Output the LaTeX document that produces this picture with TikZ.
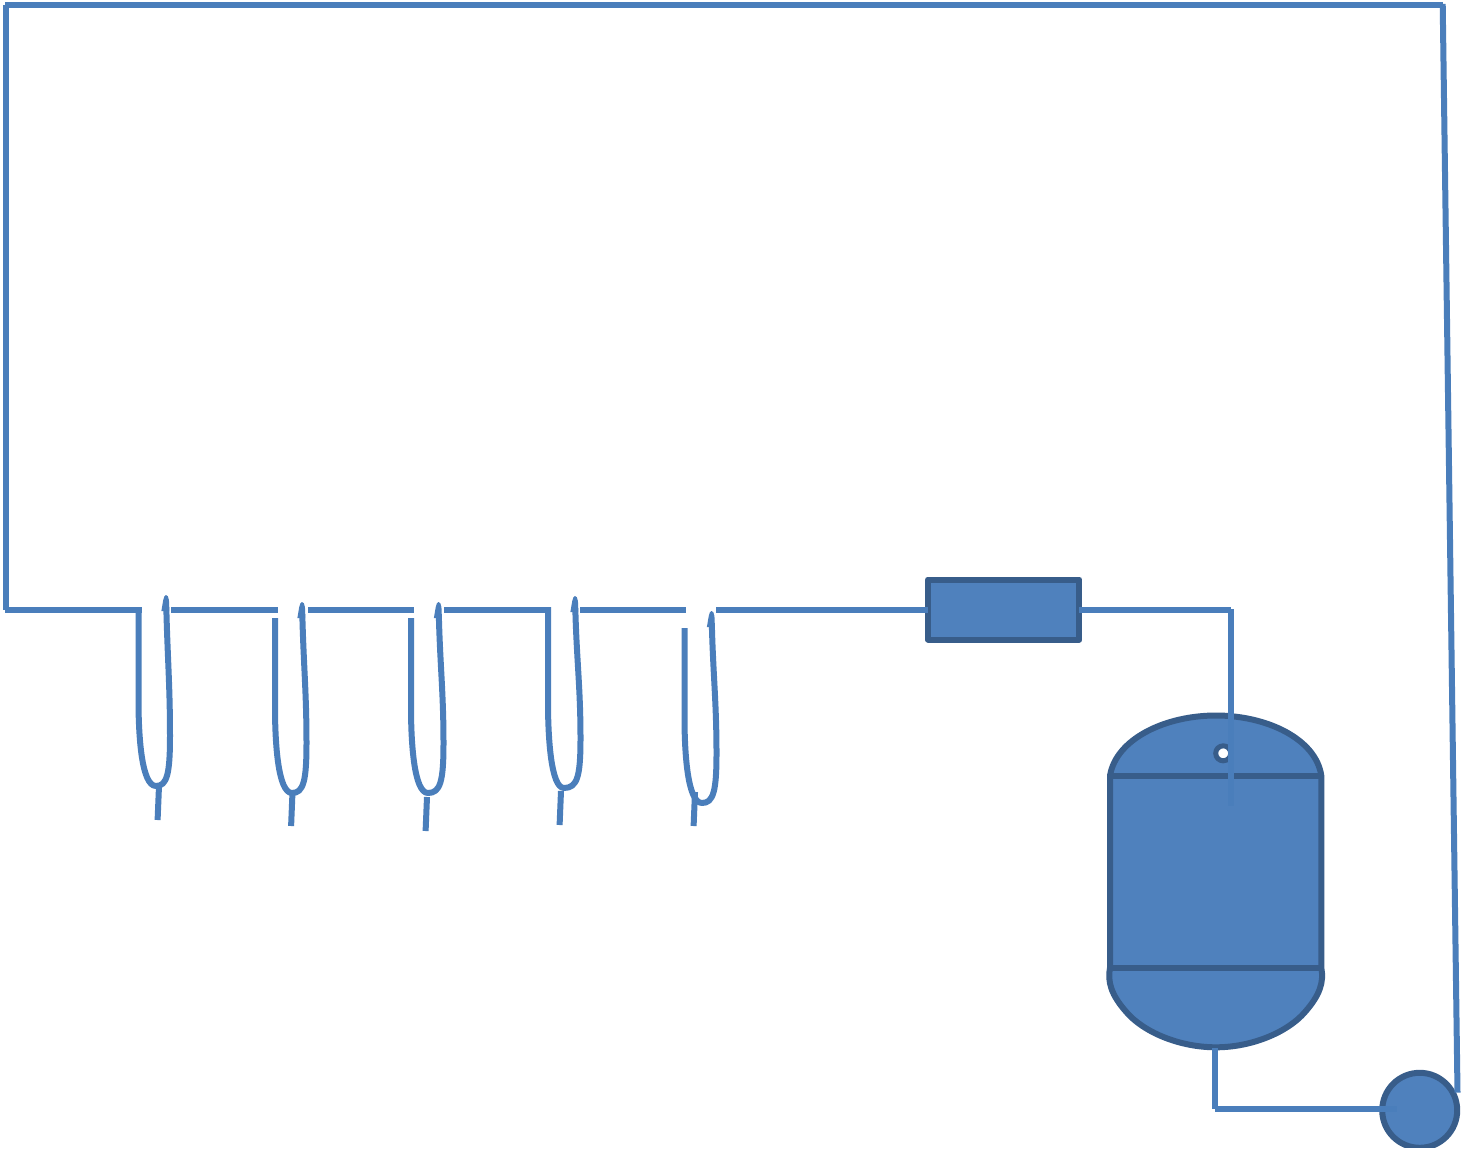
\documentclass[tikz,border=0pt]{standalone}
\definecolor{pipe}{HTML}{4A7EBB}
\definecolor{solid}{HTML}{4F81BD}
\definecolor{edge}{HTML}{385D8A}
\tikzset{
  pipeline/.style={draw=pipe,line width=6.4pt,line cap=butt,line join=miter},
  thinpipe/.style={draw=pipe,line width=6pt,line cap=butt},
  device/.style={draw=edge,fill=solid,line width=6pt,line join=round},
}
% left x, left top y, bottom x, bottom y, right x, tip x, tip y, tail top x, tail top y
\newcommand{\coilshape}[9]{%
  \draw[thinpipe,line join=round] (#1,#2) -- (#1,{#4-86})
    .. controls (#1,{#4-50}) and ({#1+3},#4) .. (#3,#4)
    .. controls ({#5-3},#4) and (#5,{#4-12}) .. (#5,{#4-50})
    .. controls (#5,{#4-100}) and ({#6+1.5},{#7+60}) .. ({#6+0.3},{#7+10});
  \fill[pipe] ({#6+3},{#7+14}) .. controls ({#6+3.5},{#7+5}) and ({#6+3},{#7-2}) .. (#6,{#7-2})
    .. controls ({#6-2.5},{#7-2}) and ({#6-3},{#7+5}) .. ({#6-4.6},{#7+14}) -- cycle;
  \draw[thinpipe] (#8,#9) -- ++(-1.4,34);
}
\begin{document}
\begin{tikzpicture}[x=1pt,y=-1pt]
\useasboundingbox (0,0) rectangle (1461,1150);
\fill[white] (0,0) rectangle (1461,1150);
% devices
\node[device,rectangle,minimum width=151.5pt,minimum height=60pt,inner sep=0pt,outer sep=0pt] (heater) at (1003.7,609.5) {};
\node[device,circle,minimum size=75pt,inner sep=0pt,outer sep=0pt] (pump) at (1419.7,1110.3) {};
\draw[device] (1110,775.7) .. controls (1116,739) and (1165,715.5) .. (1216,715.5)
   .. controls (1267,715.5) and (1316,739) .. (1321.3,775.7)
   -- (1321.3,967.7) .. controls (1324,982) and (1320,995) .. (1305,1012)
   .. controls (1288,1032) and (1252,1047.3) .. (1216,1047.3)
   .. controls (1179.3,1047.3) and (1143.3,1032) .. (1126.3,1012)
   .. controls (1111.3,995) and (1107.3,982) .. (1110,967.7) -- cycle;
\draw[edge,line width=6pt] (1110,775.7) -- (1321.3,775.7);
\draw[edge,line width=6pt] (1110,967.7) -- (1321.3,967.7);
\node[draw=edge,fill=white,circle,line width=5pt,minimum size=15pt,inner sep=0pt] (port) at (1223.2,753.3) {};
% coordinates
\coordinate (topL) at (5,5);
\coordinate (topR) at (1443,5);
\coordinate (sideT) at (6,5);
\coordinate (sideB) at (6,610);
\coordinate (midL) at (5,610);
\coordinate (rightT) at (1442.7,4);
\coordinate (pumpR) at (1457.5,1092.7);
\coordinate (tankT) at (1231,609);
\coordinate (tankIn) at (1231,806);
\coordinate (tankB) at (1215,1048);
\coordinate (tankC) at (1215,1108.7);
\coordinate (pumpL) at (1396.7,1108.7);
\coordinate (heatW) at (heater.west |- 0,610);
\coordinate (heatE) at (heater.east |- 0,610);
% main loop
\draw[pipeline] (topL) -- (topR);
\draw[pipeline] (sideT) -- (sideB);
\draw[pipeline] (midL) -- (142,610);
\draw[thinpipe] (rightT) -- (pumpR);
\draw[pipeline] (171,610) -- (278,610);
\draw[pipeline] (308,610) -- (414,610);
\draw[pipeline] (444,610) -- (551,610);
\draw[pipeline] (580,610) -- (686,610);
\draw[pipeline] (716,610) -- (heatW);
\draw[pipeline] (heatE) -- (1231,610);
\draw[pipeline] (tankT) -- (tankIn);
\draw[pipeline] (tankB) -- (tankC);
\draw[pipeline] (tankC) -- (pumpL);
% coils
\coilshape{138.5}{607}{156}{786}{170}{166}{597}{159}{786}
\coilshape{275}{618}{292}{793}{306.5}{302}{604}{292.5}{792}
\coilshape{411}{618}{428}{793}{443.5}{438.5}{604}{427}{797}
\coilshape{548}{607}{564}{788}{580.5}{575}{598}{561}{791}
\coilshape{684.5}{628}{702}{803}{716.5}{711.5}{613}{695}{792}
% page edge of the reference cuts the pump
\fill[white] (1370,1147.7) rectangle (1461,1150);
\end{tikzpicture}
\end{document}
